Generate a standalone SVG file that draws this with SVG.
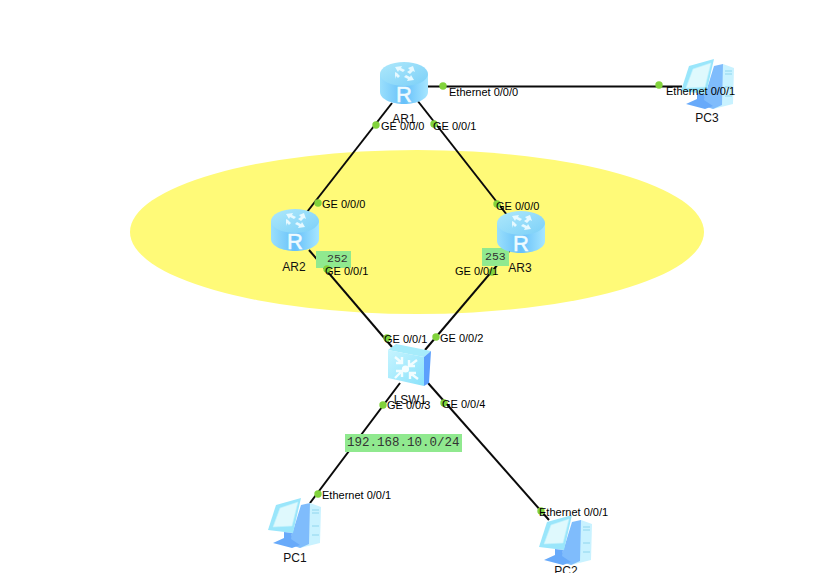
<svg xmlns="http://www.w3.org/2000/svg" width="835" height="573" viewBox="0 0 835 573">
<style>
.lbl{font-family:"Liberation Sans",Arial,sans-serif;font-size:11px;fill:#000}
.name{font-family:"Liberation Sans",Arial,sans-serif;font-size:12px;fill:#111;text-anchor:middle}
.mono{font-family:"Liberation Mono","Courier New",monospace;font-size:12.5px;fill:#333}
.mono3{font-size:11.5px}
.tag{fill:#90e98f}
.wire{stroke:#0a0a0a;stroke-width:2;fill:none}
.dot{fill:#82d33c}
</style>
<defs>
<linearGradient id="rb" x1="0" x2="1" y1="0" y2="0"><stop offset="0" stop-color="#9adffc"/><stop offset=".5" stop-color="#66c0fa"/><stop offset="1" stop-color="#a6e6ff"/></linearGradient>
<linearGradient id="rt" x1="0" x2="1" y1="0" y2="1"><stop offset="0" stop-color="#aee8fb"/><stop offset="1" stop-color="#7cd0f8"/></linearGradient>
<linearGradient id="sf" x1="0" x2="1" y1="0" y2="1"><stop offset="0" stop-color="#c6f4ff"/><stop offset="1" stop-color="#8ae2fb"/></linearGradient>
<symbol id="router" viewBox="0 0 48 42" width="48" height="42" overflow="visible">
<path d="M0 12V30C0 37 11 42 24 42S48 37 48 30V12Z" fill="url(#rb)"/>
<ellipse cx="24" cy="12" rx="24" ry="12" fill="url(#rt)"/>
<path d="M15 5L22 4L21 6L25 8L23 10L19 8L18 10ZM33 4L35 10L33 9L30 12L27 10L30 8L28 6ZM15 10L17 11L20 14L18 16L16 14L15 17ZM34 18L27 19L28 17L24 15L26 13L30 15L31 13Z" fill="#e6f9ff"/>
<text x="24" y="40" font-family="'Liberation Sans',Arial,sans-serif" font-size="22" stroke="#eefbff" stroke-width=".5" fill="#eefbff" text-anchor="middle">R</text>
</symbol>
<symbol id="pc" viewBox="0 0 53 50" width="53" height="50" overflow="visible">
<path d="M42 5L53 9L52 45L32 50Z" fill="#c9f2ff"/>
<path d="M33 7L42 5L41 46L32 50L20 46L25 33Z" fill="#7fbcfc"/>
<path d="M44 12H51M44 15H51M44 28H51M44 37H51" stroke="#8fd6ee" stroke-width="1"/>
<path d="M8 7L33 0L25 35L0 32Z" fill="#9ae6fb"/>
<path d="M12 10L30 4L24 28L5 29Z" fill="#dff9fd" stroke="#c2f2fb" stroke-width=".6"/>
<path d="M16 34L24 35L23 41L32 47L24 50L5 45L16 40Z" fill="#68aafa"/>
</symbol>
<symbol id="sw" viewBox="0 0 43 42" width="43" height="42" overflow="visible">
<path d="M8 0L43 7L36 13L0 6Z" fill="#a6ecfb"/>
<path d="M36 13L43 7L41 39L36 42Z" fill="#5c9ffc"/>
<path d="M0 6L36 13V42L0 34Z" fill="url(#sf)"/>
<g stroke="#f2fdff" stroke-width="2.4" fill="none">
<path d="M7 13L14 19M14 13V19H8M29 16L21 22M21 16V22H27M7 34L14 27M8 27H14V33M30 35L22 29M28 29H22V35"/>
</g>
<circle cx="17.500" cy="25" r="3.600" fill="#f4feff"/>
</symbol>
</defs>

<ellipse id="zone" cx="417" cy="232" rx="287" ry="82" fill="#fffa78"/>

<g id="connectors">
<path class="wire" d="M392 103L307 212"/>
<path class="wire" d="M417 100L507 215"/>
<path class="wire" d="M428 86.500H682"/>
<path class="wire" d="M309 250L392 347"/>
<path class="wire" d="M510 250L425 350"/>
<path class="wire" d="M400 383L310 503"/>
<path class="wire" d="M428 383L549 520"/>
</g>

<g id="tags">
<rect class="tag" x="316" y="251" width="35" height="17"/>
<rect class="tag" x="482" y="248" width="27" height="18"/>
<rect class="tag" x="345" y="434" width="117" height="18"/>
</g>

<g id="AR1"><use href="#router" x="380" y="62"/><text class="name" x="404" y="123">AR1</text></g>
<g id="AR2"><use href="#router" x="271" y="209"/><text class="name" x="294" y="271">AR2</text></g>
<g id="AR3"><use href="#router" x="497" y="211"/><text class="name" x="520" y="272">AR3</text></g>
<g id="LSW1"><use href="#sw" x="388" y="344"/><text class="name" x="410" y="404">LSW1</text></g>
<g id="PC1"><use href="#pc" x="268" y="498"/><text class="name" x="295" y="562">PC1</text></g>
<g id="PC2"><use href="#pc" x="539" y="515"/><text class="name" x="566" y="575">PC2</text></g>
<g id="PC3"><use href="#pc" x="681" y="59"/><text class="name" x="707" y="122">PC3</text></g>

<g id="ports">
<circle class="dot" cx="443" cy="86" r="3.700"/>
<circle class="dot" cx="659" cy="85" r="3.700"/>
<circle class="dot" cx="376" cy="125" r="3.700"/>
<circle class="dot" cx="434" cy="124" r="3.700"/>
<circle class="dot" cx="318" cy="203" r="3.700"/>
<circle class="dot" cx="497" cy="204" r="3.700"/>
<circle class="dot" cx="327" cy="269" r="3.700"/>
<circle class="dot" cx="492" cy="272" r="3.700"/>
<circle class="dot" cx="387" cy="338" r="3.700"/>
<circle class="dot" cx="436" cy="337" r="3.700"/>
<circle class="dot" cx="383" cy="405" r="3.700"/>
<circle class="dot" cx="444" cy="403" r="3.700"/>
<circle class="dot" cx="318" cy="494" r="3.700"/>
<circle class="dot" cx="541" cy="511" r="3.700"/>
</g>

<g id="labels">
<text class="lbl" x="449" y="96">Ethernet 0/0/0</text>
<text class="lbl" x="666" y="95">Ethernet 0/0/1</text>
<text class="lbl" x="381" y="130">GE 0/0/0</text>
<text class="lbl" x="433" y="130">GE 0/0/1</text>
<text class="lbl" x="322" y="208">GE 0/0/0</text>
<text class="lbl" x="496" y="210">GE 0/0/0</text>
<text class="lbl" x="325" y="275">GE 0/0/1</text>
<text class="lbl" x="455" y="275">GE 0/0/1</text>
<text class="lbl" x="384" y="343">GE 0/0/1</text>
<text class="lbl" x="440" y="342">GE 0/0/2</text>
<text class="lbl" x="387" y="409">GE 0/0/3</text>
<text class="lbl" x="442" y="408">GE 0/0/4</text>
<text class="lbl" x="322" y="499">Ethernet 0/0/1</text>
<text class="lbl" x="539" y="516">Ethernet 0/0/1</text>
<text class="mono mono3" x="327" y="262">252</text>
<text class="mono mono3" x="485" y="260">253</text>
<text class="mono" x="347" y="446">192.168.10.0/24</text>
</g>
</svg>
